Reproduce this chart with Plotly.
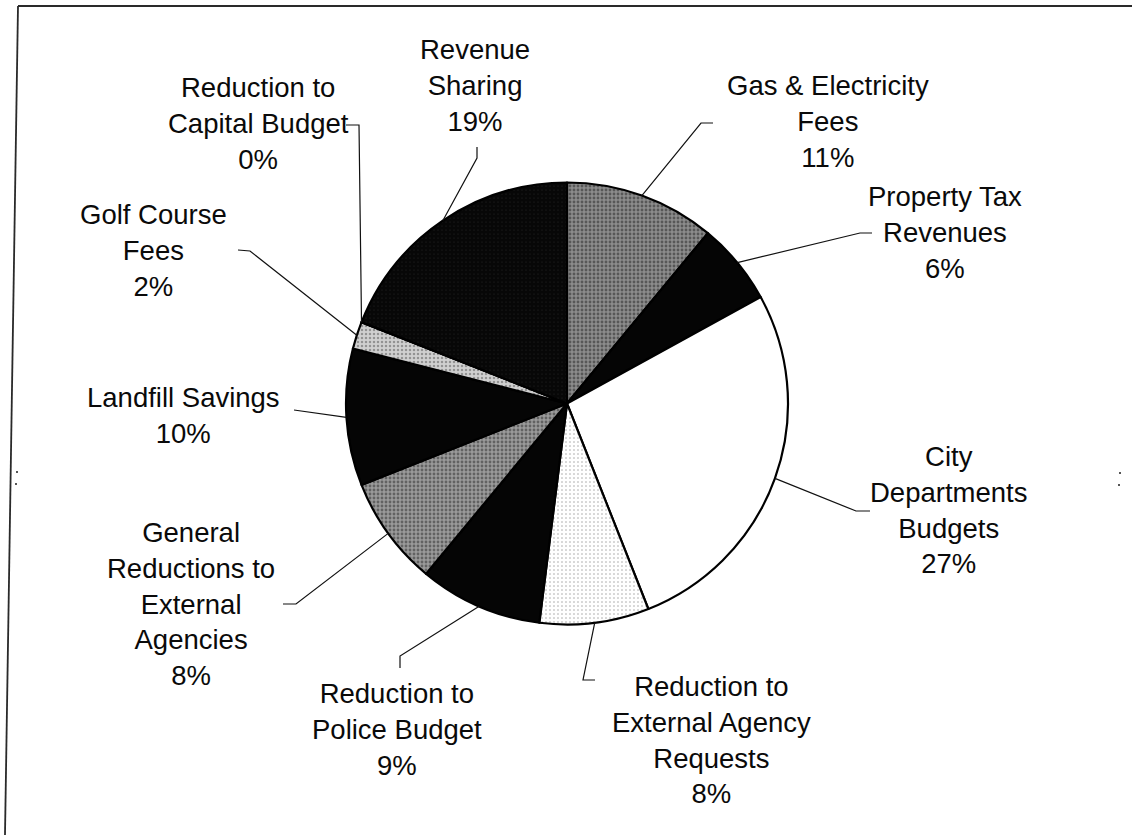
import math
import plotly.graph_objects as go

# Budget-balancing measures, shares in percent (clockwise from 12 o'clock)
labels = [
    "Gas & Electricity<br>Fees",
    "Property Tax<br>Revenues",
    "City<br>Departments<br>Budgets",
    "Reduction to<br>External Agency<br>Requests",
    "Reduction to<br>Police Budget",
    "General<br>Reductions to<br>External<br>Agencies",
    "Landfill Savings",
    "Golf Course<br>Fees",
    "Reduction to<br>Capital Budget",
    "Revenue<br>Sharing",
]
shares = [11, 6, 27, 8, 9, 8, 10, 2, 0, 19]

W, H = 1132, 835
CX, CY, R = 567, 403.5, 221

# slice fills: (background, dot colour, dot shape, solidity)
fills = [
    ("#8c8c8c", "#222222", ".", 0.4),
    ("#050505", "#050505", "", 0.0),
    ("#ffffff", "#ffffff", "", 0.0),
    ("#ffffff", "#444444", ".", 0.12),
    ("#050505", "#050505", "", 0.0),
    ("#9a9a9a", "#2a2a2a", ".", 0.4),
    ("#050505", "#050505", "", 0.0),
    ("#d0d0d0", "#555555", ".", 0.3),
    ("#050505", "#050505", "", 0.0),
    ("#070707", "#4a4a4a", ".", 0.06),
]

# label block centres (px) and leader elbows (px, from label side inward)
label_pos = [
    (828, 121.5), (945, 232.5), (948, 510.5), (711, 739.5), (397, 729),
    (191, 604), (183, 415.5), (153, 250.5), (258, 123), (475, 85.5),
]
leader_elbows = [
    [(713, 123), (701, 123)],
    [(872, 233), (860, 233)],
    [(870, 511), (856, 511)],
    [(595, 680), (583, 680)],
    [(400, 668), (400, 656)],
    [(283, 604), (296, 604)],
    [(294, 410)],
    [(238, 250), (250, 251)],
    [(346, 125), (359, 125)],
    [(477, 147), (477, 158)],
]


def px(x, y):
    return x / W, 1 - y / H


fig = go.Figure(go.Pie(
    labels=[l.replace("<br>", " ") for l in labels],
    values=shares,
    sort=False,
    direction="clockwise",
    rotation=0,
    textinfo="none",
    hoverinfo="label+percent",
    showlegend=False,
    domain=dict(x=[(CX - R) / W, (CX + R) / W],
                y=[(H - CY - R) / H, (H - CY + R) / H]),
    marker=dict(
        colors=[f[0] for f in fills],
        line=dict(color="#000000", width=2.2),
        pattern=dict(
            shape=[f[2] for f in fills],
            fgcolor=[f[1] for f in fills],
            bgcolor=[f[0] for f in fills],
            size=4,
            solidity=[f[3] for f in fills],
            fillmode="overlay",
        ),
    ),
))

annotations = []
shapes = []
total = sum(shares)
cum = 0
for lab, v, (lx, ly), elbows in zip(labels, shares, label_pos, leader_elbows):
    ang = 2 * math.pi * (cum + v / 2) / total
    cum += v
    ex, ey = CX + R * math.sin(ang), CY - R * math.cos(ang)
    pts = elbows + [(ex, ey)]
    path = "M " + " L ".join(f"{px(x, y)[0]:.5f},{px(x, y)[1]:.5f}" for x, y in pts)
    shapes.append(dict(type="path", xref="paper", yref="paper", path=path,
                       line=dict(color="#111111", width=1.2)))
    ax, ay = px(lx, ly)
    annotations.append(dict(
        x=ax, y=ay, xref="paper", yref="paper", xanchor="center", yanchor="middle",
        text=f"{lab}<br>{v}%", showarrow=False, align="center",
        font=dict(family="Liberation Sans, Arial, sans-serif", size=27.5, color="#0a0a0a"),
    ))

# scanned page frame
for (x0, y0, x1, y1) in [(18, 6, W, 6), (18, 6, 5, H)]:
    a, b = px(x0, y0)
    c, d = px(x1, y1)
    shapes.append(dict(type="line", xref="paper", yref="paper", x0=a, y0=b, x1=c, y1=d,
                       line=dict(color="#2a2a2a", width=1.8)))
for (x, y) in [(17, 472), (16, 484), (1120, 473), (1119, 485)]:
    a, b = px(x - 1, y - 1)
    c, d = px(x + 1, y + 1)
    shapes.append(dict(type="rect", xref="paper", yref="paper", x0=a, y0=b, x1=c, y1=d,
                       line=dict(width=0), fillcolor="#555555"))

fig.update_layout(
    width=W, height=H,
    margin=dict(l=0, r=0, t=0, b=0),
    paper_bgcolor="#ffffff",
    plot_bgcolor="#ffffff",
    annotations=annotations,
    shapes=shapes,
)

fig.write_html("out.html")
